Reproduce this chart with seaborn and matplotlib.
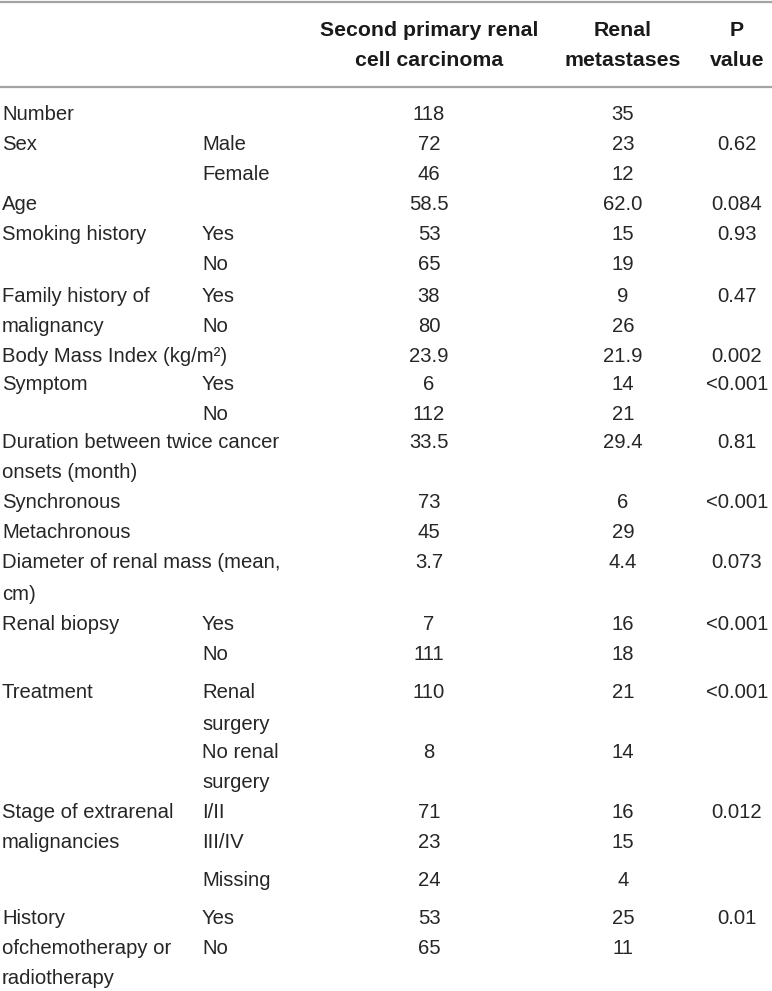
import matplotlib
matplotlib.use("Agg")
import matplotlib.pyplot as plt
import seaborn as sns

# ---- data (one entry per printed line of the table) ----
header_cols = ["", "", "Second primary renal\ncell carcinoma", "Renal\nmetastases", "P\nvalue"]

characteristic = ["Number", "Sex", "", "Age", "Smoking history", "",
                  "Family history of", "malignancy", "Body Mass Index (kg/m²)",
                  "Symptom", "", "Duration between twice cancer", "onsets (month)",
                  "Synchronous", "Metachronous", "Diameter of renal mass (mean,", "cm)",
                  "Renal biopsy", "", "Treatment", "", "", "",
                  "Stage of extrarenal", "malignancies", "",
                  "History", "ofchemotherapy or", "radiotherapy"]
level = ["", "Male", "Female", "", "Yes", "No", "Yes", "No", "", "Yes", "No",
         "", "", "", "", "", "", "Yes", "No", "Renal", "surgery", "No renal", "surgery",
         "I/II", "III/IV", "Missing", "Yes", "No", ""]
rcc = ["118", "72", "46", "58.5", "53", "65", "38", "80", "23.9", "6", "112",
       "33.5", "", "73", "45", "3.7", "", "7", "111", "110", "", "8", "",
       "71", "23", "24", "53", "65", ""]
mets = ["35", "23", "12", "62.0", "15", "19", "9", "26", "21.9", "14", "21",
        "29.4", "", "6", "29", "4.4", "", "16", "18", "21", "", "14", "",
        "16", "15", "4", "25", "11", ""]
pval = ["", "0.62", "", "0.084", "0.93", "", "0.47", "", "0.002", "<0.001", "",
        "0.81", "", "<0.001", "", "0.073", "", "<0.001", "", "<0.001", "", "", "",
        "0.012", "", "", "0.01", "", ""]

# ---- layout (pixel coordinates of the 772x991 canvas) ----
W, H = 772, 991
line_y = [115, 145, 175, 205, 235, 265, 296, 326, 356, 385, 415, 443, 473, 503,
          533, 563, 594, 625, 655, 693, 724, 753, 783, 813, 843, 880, 918, 948, 979]
col_x = [2, 202, 429, 623, 737]
col_ha = ["left", "left", "center", "center", "center"]

sns.set_theme(style="white")
plt.rcParams["font.family"] = ["Liberation Sans", "DejaVu Sans"]

fig = plt.figure(figsize=(W / 100, H / 100), dpi=100)
ax = fig.add_axes([0, 0, 1, 1])
ax.set_xlim(0, W)
ax.set_ylim(H, 0)
ax.axis("off")

txt_color = "#262626"
body_size = 14.6
head_size = 15.3

# rules
ax.axhline(1.5, color="#a3a3a3", lw=1.6)
ax.axhline(86.5, color="#a3a3a3", lw=1.6)

# header
for x, ha, lab in zip(col_x, col_ha, header_cols):
    if not lab:
        continue
    for k, part in enumerate(lab.split("\n")):
        ax.text(x, 30 + 30 * k, part, ha=ha, va="center", fontsize=head_size,
                fontweight="bold", color="#1a1a1a")

# body
columns = [characteristic, level, rcc, mets, pval]
for col, x, ha in zip(columns, col_x, col_ha):
    for y, s in zip(line_y, col):
        if s:
            ax.text(x, y, s, ha=ha, va="center", fontsize=body_size, color=txt_color)

fig.savefig("out.png", dpi=100)
